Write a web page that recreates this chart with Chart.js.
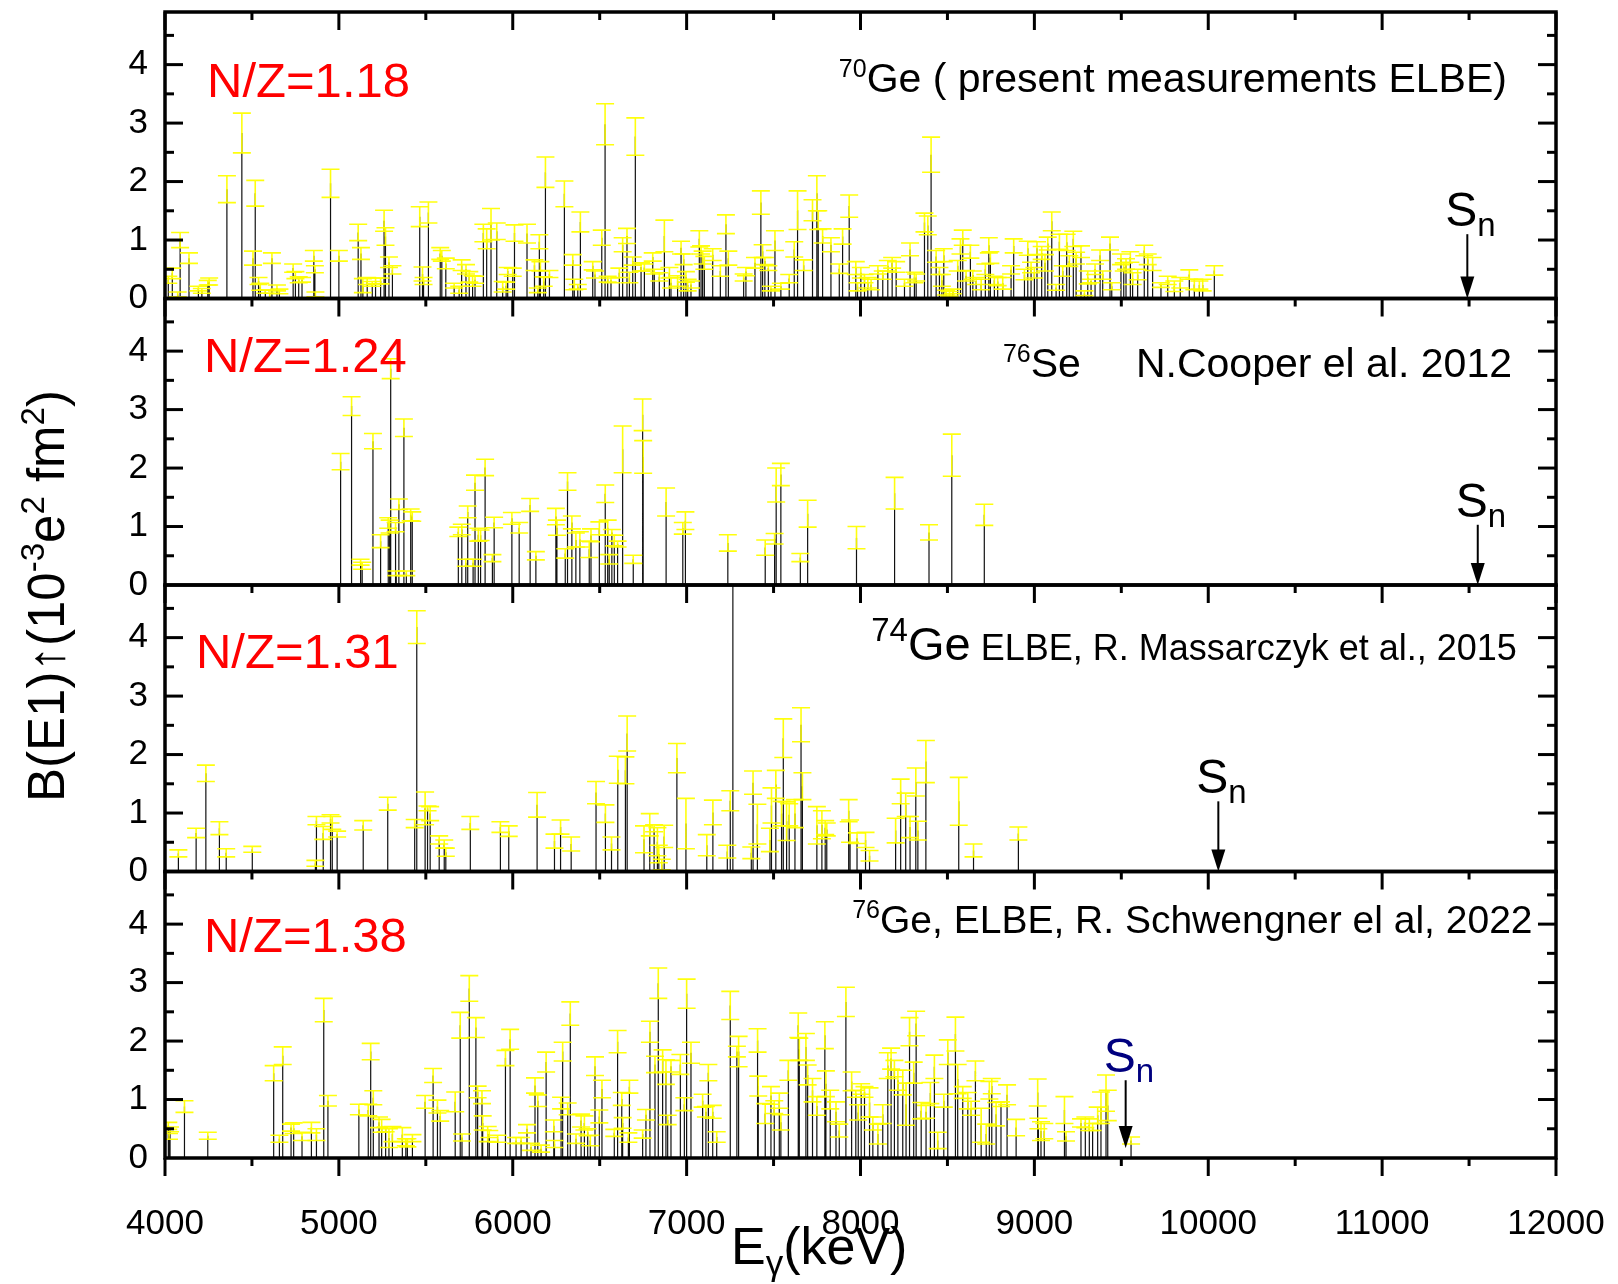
<!DOCTYPE html>
<html>
<head>
<meta charset="utf-8">
<script src="https://cdn.jsdelivr.net/npm/chart.js@4.4.1/dist/chart.umd.min.js"></script>
<style>
  html, body { margin: 0; padding: 0; background: #fff; }
  #wrap { width: 1618px; height: 1284px; }
</style>
</head>
<body>
<div id="wrap"><canvas id="e1chart" width="1618" height="1284"></canvas></div>
<script>
// [E (keV), B(E1) (1e-3 e^2 fm^2), error]
const ge70 = [
  [4019,0.32,0.06],[4042,0.43,0.09],[4073,0.07,0.04],[4087,1.00,0.13],[4138,0.69,0.09],[4192,0.17,0.04],
  [4212,0.13,0.04],[4246,0.27,0.04],[4254,0.29,0.06],[4356,1.87,0.23],[4442,2.83,0.34],[4506,0.69,0.12],
  [4519,1.80,0.22],[4538,0.30,0.06],[4548,0.20,0.06],[4577,0.12,0.03],[4602,0.05,0.04],[4615,0.69,0.09],
  [4644,0.18,0.05],[4658,0.12,0.04],[4737,0.52,0.07],[4750,0.40,0.06],[4769,0.32,0.05],[4788,0.32,0.04],
  [4856,0.73,0.09],[4862,0.50,0.06],[4865,0.07,0.04],[4952,1.97,0.24],[5000,0.73,0.09],[5111,1.13,0.14],
  [5127,0.77,0.10],[5138,0.22,0.12],[5163,0.30,0.06],[5192,0.25,0.04],[5211,0.30,0.05],[5240,0.30,0.05],
  [5260,1.33,0.18],[5268,1.06,0.15],[5288,0.62,0.09],[5308,0.49,0.07],[5465,1.40,0.17],[5481,0.42,0.12],
  [5487,0.30,0.06],[5515,1.47,0.18],[5583,0.77,0.10],[5592,0.73,0.09],[5615,0.60,0.09],[5663,0.22,0.04],
  [5692,0.15,0.06],[5706,0.57,0.09],[5731,0.50,0.08],[5750,0.37,0.09],[5769,0.30,0.09],[5783,0.32,0.06],
  [5831,1.12,0.15],[5850,1.02,0.17],[5875,1.27,0.27],[5908,1.15,0.14],[5942,0.20,0.09],[5962,0.22,0.06],
  [5971,0.47,0.06],[6000,0.45,0.07],[6010,1.12,0.14],[6082,1.11,0.16],[6125,0.57,0.09],[6144,0.14,0.04],
  [6153,0.97,0.12],[6159,0.55,0.08],[6178,0.29,0.08],[6188,2.16,0.26],[6211,0.42,0.06],[6297,1.79,0.22],
  [6345,0.66,0.09],[6354,0.24,0.09],[6374,0.20,0.04],[6389,1.31,0.17],[6460,0.56,0.07],[6473,0.41,0.06],
  [6512,1.04,0.13],[6531,2.98,0.35],[6546,0.33,0.05],[6565,0.31,0.04],[6613,0.44,0.08],[6632,0.92,0.12],
  [6657,1.07,0.13],[6671,0.36,0.09],[6690,0.64,0.07],[6705,2.77,0.32],[6738,0.54,0.07],[6757,0.53,0.06],
  [6805,0.71,0.07],[6814,0.46,0.04],[6843,0.37,0.07],[6872,1.07,0.27],[6901,0.44,0.09],[6910,0.27,0.09],
  [6948,0.30,0.09],[6968,0.87,0.11],[6983,0.67,0.09],[6996,0.37,0.09],[7006,0.23,0.10],[7025,0.24,0.06],
  [7073,1.02,0.14],[7083,0.83,0.07],[7092,0.70,0.11],[7102,0.61,0.11],[7150,0.75,0.10],[7194,0.47,0.09],
  [7226,1.27,0.16],[7240,0.69,0.12],[7328,0.36,0.06],[7341,0.46,0.07],[7393,0.61,0.09],[7427,1.64,0.20],
  [7437,0.81,0.11],[7450,0.64,0.06],[7470,0.52,0.04],[7485,0.17,0.04],[7508,0.99,0.17],[7542,0.21,0.05],
  [7590,0.34,0.07],[7619,0.84,0.13],[7638,1.51,0.33],[7673,0.57,0.09],[7724,1.51,0.18],[7749,1.80,0.30],
  [7757,1.34,0.16],[7782,1.07,0.12],[7830,0.92,0.12],[7878,0.51,0.08],[7897,1.06,0.13],[7935,1.58,0.19],
  [7973,0.52,0.11],[7983,0.20,0.07],[8002,0.44,0.09],[8023,0.34,0.07],[8042,0.27,0.09],[8061,0.24,0.09],
  [8100,0.49,0.07],[8128,0.40,0.07],[8157,0.56,0.09],[8182,0.61,0.09],[8205,0.54,0.09],[8253,0.27,0.06],
  [8285,0.84,0.11],[8310,0.36,0.09],[8320,0.36,0.06],[8368,1.30,0.16],[8387,1.25,0.16],[8406,2.46,0.30],
  [8435,0.72,0.10],[8454,0.47,0.06],[8468,0.31,0.10],[8479,0.74,0.11],[8492,0.10,0.04],[8512,0.08,0.04],
  [8531,0.12,0.04],[8559,0.56,0.09],[8575,0.89,0.13],[8588,1.04,0.13],[8607,0.39,0.09],[8632,0.80,0.11],
  [8646,0.40,0.07],[8665,0.30,0.06],[8694,0.24,0.09],[8718,0.50,0.09],[8738,0.91,0.13],[8747,0.70,0.10],
  [8770,0.31,0.07],[8789,0.29,0.07],[8818,0.26,0.10],[8866,0.49,0.07],[8881,0.90,0.12],[8943,0.41,0.09],
  [8962,0.86,0.12],[8981,0.53,0.09],[9000,0.44,0.09],[9015,0.86,0.11],[9042,0.78,0.11],[9061,0.61,0.14],
  [9077,0.94,0.11],[9100,1.32,0.16],[9125,0.19,0.05],[9144,0.97,0.13],[9163,0.47,0.09],[9186,0.96,0.14],
  [9201,0.64,0.09],[9224,1.02,0.13],[9240,0.69,0.10],[9268,0.80,0.10],[9288,0.09,0.04],[9307,0.36,0.11],
  [9326,0.30,0.03],[9349,0.50,0.09],[9378,0.74,0.09],[9393,0.40,0.07],[9435,0.94,0.11],[9445,0.21,0.06],
  [9498,0.67,0.09],[9514,0.54,0.07],[9527,0.59,0.09],[9552,0.71,0.09],[9565,0.34,0.10],[9594,0.41,0.09],
  [9632,0.82,0.09],[9652,0.67,0.09],[9680,0.59,0.11],[9728,0.23,0.04],[9767,0.31,0.07],[9805,0.21,0.09],
  [9839,0.27,0.09],[9891,0.41,0.08],[9920,0.24,0.09],[9949,0.23,0.07],[9968,0.23,0.10],[10035,0.48,0.08]
];
const se76 = [
  [5010,2.11,0.14],[5073,3.06,0.16],[5125,0.39,0.05],[5134,0.33,0.06],[5196,2.46,0.13],[5240,0.75,0.11],
  [5284,1.06,0.09],[5292,1.00,0.11],[5298,3.70,0.17],[5326,0.99,0.08],[5330,0.20,0.04],[5345,1.38,0.09],
  [5374,2.69,0.15],[5388,0.20,0.04],[5413,1.20,0.10],[5422,1.17,0.08],[5687,0.91,0.08],[5707,0.95,0.09],
  [5730,0.38,0.06],[5741,1.25,0.10],[5772,0.38,0.06],[5783,1.75,0.13],[5802,0.86,0.11],[5815,0.85,0.09],
  [5841,2.01,0.14],[5883,0.46,0.06],[5893,1.07,0.09],[5995,1.14,0.10],[6037,0.98,0.09],[6100,1.37,0.11],
  [6133,0.50,0.07],[6248,1.17,0.14],[6254,0.98,0.13],[6302,0.54,0.08],[6315,1.77,0.15],[6340,1.07,0.11],
  [6363,0.77,0.12],[6386,0.78,0.13],[6440,0.61,0.14],[6450,0.85,0.11],[6498,0.97,0.11],[6532,1.56,0.15],
  [6546,0.98,0.13],[6555,0.44,0.08],[6570,0.90,0.05],[6584,0.76,0.09],[6603,0.70,0.05],[6632,2.32,0.40],
  [6693,0.44,0.07],[6747,2.91,0.27],[6750,2.19,0.28],[6882,1.42,0.24],[6978,0.97,0.10],[6993,1.10,0.15],
  [7237,0.72,0.14],[7452,0.64,0.13],[7506,0.79,0.09],[7515,1.71,0.29],[7542,1.89,0.19],[7654,0.47,0.07],
  [7696,1.22,0.23],[7977,0.81,0.19],[8196,1.57,0.27],[8394,0.90,0.13],[8525,2.22,0.36],[8712,1.20,0.18]
];
const ge74 = [
  [4077,0.31,0.06],[4179,0.66,0.08],[4235,1.68,0.14],[4313,0.74,0.11],[4352,0.32,0.07],[4502,0.38,0.05],
  [4865,0.14,0.05],[4871,0.87,0.07],[4910,0.66,0.11],[4952,0.90,0.07],[4962,0.83,0.11],[4990,0.64,0.05],
  [5140,0.79,0.08],[5281,1.16,0.11],[5436,0.82,0.07],[5448,4.18,0.28],[5496,1.08,0.28],[5510,1.08,0.04],
  [5525,0.99,0.12],[5577,0.54,0.07],[5606,0.47,0.07],[5615,0.33,0.07],[5756,0.83,0.11],[5929,0.76,0.09],
  [5977,0.69,0.09],[6140,1.14,0.21],[6240,0.52,0.12],[6275,0.76,0.12],[6336,0.47,0.12],[6479,1.35,0.19],
  [6533,0.99,0.15],[6568,0.48,0.11],[6604,1.74,0.23],[6648,1.73,0.23],[6658,2.36,0.30],[6755,0.55,0.23],
  [6788,0.80,0.19],[6813,0.74,0.06],[6832,0.51,0.24],[6840,0.30,0.15],[6857,0.12,0.09],[6871,0.60,0.19],
  [6944,1.94,0.25],[6996,0.82,0.43],[7116,0.45,0.18],[7151,1.01,0.21],[7234,0.34,0.11],[7251,1.21,0.17],
  [7266,5.60,0.30],[7372,0.32,0.10],[7382,1.52,0.20],[7407,0.81,0.34],[7479,0.54,0.20],[7488,1.13,0.30],
  [7513,1.49,0.24],[7546,0.99,0.21],[7556,2.28,0.33],[7575,0.86,0.33],[7590,0.97,0.19],[7623,0.99,0.24],
  [7658,2.51,0.29],[7666,1.46,0.23],[7749,0.79,0.32],[7778,0.80,0.24],[7797,0.75,0.12],[7806,0.72,0.11],
  [7932,1.04,0.19],[7940,0.69,0.19],[7980,0.57,0.09],[8029,0.54,0.13],[8052,0.27,0.09],[8202,0.70,0.21],
  [8231,1.37,0.21],[8260,1.14,0.20],[8285,0.76,0.18],[8318,1.53,0.24],[8330,0.70,0.16],[8376,1.88,0.36],
  [8565,1.20,0.41],[8650,0.36,0.11],[8908,0.65,0.11]
];
const ge76 = [
  [4019,0.55,0.06],[4023,0.37,0.05],[4029,0.49,0.04],[4112,0.88,0.10],[4246,0.38,0.06],[4625,1.45,0.13],
  [4658,0.33,0.06],[4677,1.75,0.15],[4725,0.52,0.06],[4740,0.51,0.09],[4788,0.37,0.07],[4842,0.52,0.09],
  [4871,0.40,0.10],[4913,2.53,0.20],[4937,0.98,0.09],[5115,0.83,0.09],[5169,0.82,0.10],[5183,1.82,0.14],
  [5198,1.03,0.12],[5231,0.61,0.09],[5246,0.55,0.11],[5269,0.49,0.04],[5288,0.34,0.16],[5308,0.41,0.13],
  [5365,0.40,0.12],[5385,0.27,0.06],[5394,0.26,0.07],[5423,0.34,0.06],[5496,0.96,0.11],[5542,1.41,0.12],
  [5567,0.88,0.11],[5583,0.72,0.09],[5669,0.96,0.17],[5698,2.27,0.22],[5708,0.35,0.06],[5750,2.90,0.22],
  [5788,2.23,0.17],[5798,1.13,0.10],[5823,1.04,0.11],[5827,0.60,0.12],[5856,0.41,0.13],[5865,0.41,0.06],
  [5913,0.33,0.06],[5958,1.71,0.13],[5985,2.03,0.17],[6019,0.30,0.05],[6048,0.30,0.05],[6082,0.50,0.07],
  [6105,0.19,0.06],[6128,1.24,0.13],[6144,0.98,0.10],[6163,0.16,0.06],[6192,1.64,0.17],[6236,0.55,0.10],
  [6240,0.24,0.06],[6278,0.94,0.10],[6287,1.82,0.16],[6316,0.84,0.10],[6331,2.47,0.20],[6364,0.33,0.08],
  [6393,0.64,0.11],[6412,0.60,0.12],[6431,0.44,0.06],[6446,0.30,0.09],[6473,1.57,0.16],[6498,0.71,0.11],
  [6513,1.18,0.15],[6584,0.43,0.06],[6603,1.99,0.19],[6627,1.01,0.11],[6632,0.60,0.09],[6665,0.35,0.08],
  [6671,1.22,0.11],[6747,0.41,0.07],[6766,0.74,0.09],[6789,2.16,0.18],[6818,1.60,0.14],[6837,2.99,0.26],
  [6862,1.66,0.19],[6881,1.47,0.21],[6891,0.65,0.08],[6910,1.57,0.10],[6964,1.60,0.17],[6987,0.92,0.11],
  [7000,2.81,0.25],[7025,1.80,0.18],[7092,0.98,0.11],[7111,0.79,0.09],[7125,1.46,0.14],[7150,0.79,0.11],
  [7173,0.36,0.09],[7251,2.61,0.24],[7289,1.82,0.09],[7299,1.82,0.26],[7408,2.01,0.20],[7412,1.23,0.17],
  [7452,0.76,0.17],[7485,1.07,0.15],[7504,0.87,0.11],[7533,0.98,0.13],[7542,0.61,0.13],[7585,1.50,0.17],
  [7642,2.27,0.21],[7648,1.86,0.19],[7686,1.90,0.23],[7696,1.42,0.17],[7724,1.16,0.20],[7749,0.89,0.16],
  [7795,2.10,0.23],[7801,1.27,0.22],[7826,1.00,0.16],[7859,0.79,0.17],[7878,0.47,0.11],[7916,2.67,0.25],
  [7949,1.31,0.16],[7973,1.10,0.06],[7987,0.78,0.13],[8004,1.18,0.09],[8023,1.13,0.09],[8052,0.95,0.25],
  [8071,0.59,0.11],[8100,0.41,0.17],[8128,0.75,0.16],[8157,1.58,0.22],[8176,1.70,0.18],[8195,1.53,0.14],
  [8215,1.33,0.17],[8243,1.29,0.21],[8262,0.92,0.36],[8282,2.16,0.24],[8306,1.46,0.18],[8320,2.30,0.21],
  [8349,0.81,0.14],[8377,0.79,0.11],[8402,1.11,0.18],[8425,1.56,0.20],[8444,0.30,0.14],[8479,0.98,0.11],
  [8502,1.81,0.21],[8546,2.12,0.29],[8559,1.35,0.25],[8588,1.12,0.10],[8617,0.98,0.14],[8636,0.85,0.12],
  [8661,1.49,0.17],[8694,0.56,0.29],[8723,0.41,0.17],[8741,1.16,0.15],[8755,1.23,0.13],[8780,0.75,0.20],
  [8808,0.92,0.04],[8843,1.08,0.17],[8895,0.52,0.14],[9019,1.12,0.23],[9023,0.59,0.09],[9038,0.46,0.16],
  [9057,0.46,0.13],[9173,0.82,0.23],[9182,0.37,0.08],[9268,0.60,0.07],[9293,0.61,0.09],[9316,0.57,0.10],
  [9335,0.53,0.06],[9364,0.73,0.14],[9383,0.86,0.27],[9412,1.11,0.31],[9422,0.90,0.26],[9556,0.30,0.06]
];

const xTicks = [4000, 5000, 6000, 7000, 8000, 9000, 10000, 11000, 12000];
const yTicks = [0, 1, 2, 3, 4];
const nzLabels = ['N/Z=1.18', 'N/Z=1.24', 'N/Z=1.31', 'N/Z=1.38'];
const snEnergy = [11490, 11550, 10058, 9525];
const snTop = [1.10, 1.03, 1.20, 1.33];
const snBottom = [0, 0, 0, 0.17];
const snColor = ['#000', '#000', '#000', '#00007f'];

const FONT = '"Liberation Sans", Arial, sans-serif';

const panels = [
  { axis: 'y1', pts: ge70, nz: [4242, 3.44],
    note: { at: [11718, 3.53], align: 'right', parts: [{ t: '70', s: 25, dy: -15 }, { t: 'Ge ( present measurements ELBE)', s: 41 }] } },
  { axis: 'y2', pts: se76, nz: [4224, 3.64],
    note: { at: [11747, 3.55], align: 'right', parts: [{ t: 'N.Cooper el al. 2012', s: 41 }] },
    note2: { at: [8819, 3.55], align: 'left', parts: [{ t: '76', s: 25, dy: -15 }, { t: 'Se', s: 41 }] } },
  { axis: 'y3', pts: ge74, nz: [4178, 3.48],
    note: { at: [11775, 3.62], align: 'right', parts: [{ t: '74', s: 33, dy: -19 }, { t: 'Ge', s: 47 }, { t: ' ELBE, R. Massarczyk et al., 2015', s: 36 }] } },
  { axis: 'y4', pts: ge76, nz: [4224, 3.53],
    note: { at: [11865, 3.85], align: 'right', parts: [{ t: '76', s: 25, dy: -15 }, { t: 'Ge, ELBE, R. Schwengner el al, 2022', s: 39 }] } }
];

function drawRich(ctx, parts, x, y, align) {
  let w = 0;
  parts.forEach(p => { ctx.font = p.s + 'px ' + FONT; w += ctx.measureText(p.t).width; });
  let cx = align === 'right' ? x - w : (align === 'center' ? x - w / 2 : x);
  ctx.textAlign = 'left';
  ctx.textBaseline = 'alphabetic';
  parts.forEach(p => {
    ctx.font = p.s + 'px ' + FONT;
    ctx.fillText(p.t, cx, y + (p.dy || 0));
    cx += ctx.measureText(p.t).width;
  });
}

const whiteBg = {
  id: 'whiteBg',
  beforeDraw(chart) {
    const ctx = chart.ctx;
    ctx.save();
    ctx.fillStyle = '#fff';
    ctx.fillRect(0, 0, chart.width, chart.height);
    ctx.restore();
  }
};

// yellow error bars on top of the sticks
const errBars = {
  id: 'errBars',
  afterDatasetsDraw(chart) {
    const ctx = chart.ctx, xs = chart.scales.x;
    panels.forEach(p => {
      const ys = chart.scales[p.axis];
      ctx.save();
      ctx.beginPath();
      ctx.rect(xs.left, ys.top, xs.right - xs.left, ys.bottom - ys.top);
      ctx.clip();
      ctx.strokeStyle = 'rgba(255,255,0,0.95)';
      ctx.lineWidth = 1.6;
      p.pts.forEach(([e, b, d]) => {
        const x = xs.getPixelForValue(e);
        const yHi = ys.getPixelForValue(b + d), yLo = ys.getPixelForValue(Math.max(b - d, 0));
        ctx.beginPath();
        ctx.moveTo(x, yHi); ctx.lineTo(x, yLo);
        ctx.moveTo(x - 9, yHi); ctx.lineTo(x + 9, yHi);
        ctx.moveTo(x - 9, yLo); ctx.lineTo(x + 9, yLo);
        ctx.stroke();
      });
      ctx.restore();
    });
  }
};

// frames, inward ticks, annotations, S_n arrows and axis titles
const decor = {
  id: 'decor',
  afterDraw(chart) {
    const ctx = chart.ctx, xs = chart.scales.x, L = xs.left, R = xs.right;
    const seg = (x0, y0, x1, y1) => { ctx.beginPath(); ctx.moveTo(x0, y0); ctx.lineTo(x1, y1); ctx.stroke(); };
    ctx.save();
    ctx.strokeStyle = '#000';
    ctx.fillStyle = '#000';
    panels.forEach((p, i) => {
      const ys = chart.scales[p.axis], T = ys.top, B = ys.bottom;
      ctx.lineWidth = 3;
      for (let v = 4000; v <= 12000; v += 500) {
        const x = xs.getPixelForValue(v), len = v % 1000 ? 8 : 18;
        seg(x, T, x, T + len);
        if (i === panels.length - 1) seg(x, B, x, B + len);
      }
      for (let v = 0.5; v <= 4.5; v += 0.5) {
        const y = ys.getPixelForValue(v), len = v % 1 ? 9 : 18;
        seg(L, y, L + len, y);
        seg(R, y, R - len, y);
      }
      ctx.lineWidth = 3.5;
      ctx.strokeRect(L, T, R - L, B - T);

      // N/Z label
      ctx.fillStyle = '#ff0000';
      drawRich(ctx, [{ t: nzLabels[i], s: 49 }], xs.getPixelForValue(p.nz[0]), ys.getPixelForValue(p.nz[1]), 'left');
      // reference text
      ctx.fillStyle = '#000';
      [p.note, p.note2].forEach(n => {
        if (n) drawRich(ctx, n.parts, xs.getPixelForValue(n.at[0]), ys.getPixelForValue(n.at[1]), n.align);
      });

      // S_n arrow
      const ax = xs.getPixelForValue(snEnergy[i]);
      const aTop = ys.getPixelForValue(snTop[i]), aBot = ys.getPixelForValue(snBottom[i]);
      ctx.strokeStyle = '#000';
      ctx.fillStyle = '#000';
      ctx.lineWidth = 2;
      seg(ax, aTop, ax, aBot - 18);
      ctx.beginPath();
      ctx.moveTo(ax - 7, aBot - 22);
      ctx.lineTo(ax + 7, aBot - 22);
      ctx.lineTo(ax, aBot);
      ctx.closePath();
      ctx.fill();
      ctx.fillStyle = snColor[i];
      ctx.font = '48px ' + FONT;
      const sw = ctx.measureText('S').width;
      drawRich(ctx, [{ t: 'S', s: 48 }, { t: 'n', s: 33, dy: 10 }], ax - sw / 2 - 6, aTop - 8, 'left');
      ctx.fillStyle = '#000';
    });

    // axis titles
    ctx.fillStyle = '#000';
    drawRich(ctx, [{ t: 'E', s: 52 }, { t: '\u03b3', s: 35, dy: 11 }, { t: '(keV)', s: 52 }],
      xs.getPixelForValue(7255), 1264, 'left');
    ctx.translate(64, 596);
    ctx.rotate(-Math.PI / 2);
    drawRich(ctx, [
      { t: 'B(E1)\u2191(10', s: 51 }, { t: '-3', s: 33, dy: -20 }, { t: 'e', s: 51 },
      { t: '2', s: 33, dy: -20 }, { t: ' fm', s: 51 }, { t: '2', s: 33, dy: -20 }, { t: ')', s: 51 }
    ], 0, 0, 'center');
    ctx.restore();
  }
};

function yAxis() {
  return {
    type: 'linear',
    position: 'left',
    stack: 'panels',
    stackWeight: 1,
    min: 0,
    max: 4.9,
    grid: { display: false, drawTicks: false },
    border: { display: false },
    ticks: { color: '#000', padding: 17, autoSkip: false, font: { family: FONT, size: 35 } },
    afterBuildTicks: s => { s.ticks = yTicks.map(v => ({ value: v })); },
    afterFit: s => { s.width = 165; s.paddingTop = 0; s.paddingBottom = 0; }
  };
}

const scales = {
  x: {
    type: 'linear',
    position: 'bottom',
    min: 4000,
    max: 12000,
    grid: { display: false, drawTicks: false },
    border: { display: false },
    ticks: {
      color: '#000', padding: 45, maxRotation: 0, autoSkip: false,
      font: { family: FONT, size: 35 },
      callback: v => String(v)
    },
    afterBuildTicks: s => { s.ticks = xTicks.map(v => ({ value: v })); },
    afterFit: s => { s.height = 126; s.paddingLeft = 0; s.paddingRight = 0; }
  }
};
// left boxes stack in reverse order: define the bottom panel first
['y4', 'y3', 'y2', 'y1'].forEach(id => { scales[id] = yAxis(); });

const e1chart = new Chart(document.getElementById('e1chart'), {
  type: 'line',
  data: {
    datasets: panels.map(p => ({
      yAxisID: p.axis,
      data: p.pts.flatMap(q => [{ x: q[0], y: 0 }, { x: q[0], y: q[1] }, { x: q[0], y: null }]),
      borderColor: '#111',
      borderWidth: 1.2,
      pointRadius: 0,
      spanGaps: false,
      fill: false
    }))
  },
  options: {
    animation: false,
    responsive: false,
    devicePixelRatio: 1,
    layout: { padding: { top: 12, right: 62, left: 0, bottom: 0 } },
    plugins: { legend: { display: false }, tooltip: { enabled: false } },
    scales: scales
  },
  plugins: [whiteBg, errBars, decor]
});
</script>
</body>
</html>
